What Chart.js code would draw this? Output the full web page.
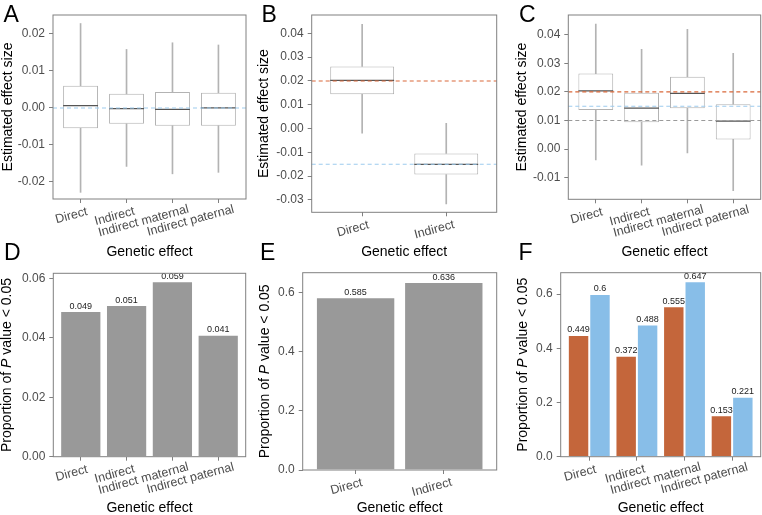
<!DOCTYPE html>
<html>
<head>
<meta charset="utf-8">
<script src="https://cdn.jsdelivr.net/npm/chart.js@4.4.0/dist/chart.umd.min.js"></script>
<style>
  body { margin: 0; background: #fff; width: 762px; height: 515px; position: relative; overflow: hidden; }
  canvas { position: absolute; }
</style>
</head>
<body>
<canvas id="chartA" width="250" height="261" style="left:0;top:0"></canvas>
<canvas id="chartB" width="250" height="261" style="left:250px;top:0"></canvas>
<canvas id="chartC" width="258" height="261" style="left:504px;top:0"></canvas>
<canvas id="chartD" width="250" height="276" style="left:0;top:241px"></canvas>
<canvas id="chartE" width="250" height="276" style="left:250px;top:241px"></canvas>
<canvas id="chartF" width="258" height="276" style="left:504px;top:241px"></canvas>
<script>
// categories
const effects4 = ['Direct', 'Indirect', 'Indirect maternal', 'Indirect paternal'];
const effects2 = ['Direct', 'Indirect'];

// A: box stats (whisker low, q1, median, q3, whisker high)
const aMin = [-0.0228, -0.0158, -0.0178, -0.0174];
const aQ1  = [-0.0055, -0.0043, -0.0048, -0.0048];
const aMed = [0.0006, -0.0002, -0.0004, 0.0000];
const aQ3  = [0.0060, 0.0038, 0.0043, 0.0041];
const aMax = [0.0228, 0.0158, 0.0176, 0.0170];
const aRefs = [0];
const aTicks = [-0.02, -0.01, 0, 0.01, 0.02];

// B
const bMin = [-0.0020, -0.0317];
const bQ1  = [0.0144, -0.0193];
const bMed = [0.0202, -0.0151];
const bQ3  = [0.0261, -0.0105];
const bMax = [0.0438, 0.0022];
const bRefs = [0.02, -0.015];
const bTicks = [-0.03, -0.02, -0.01, 0, 0.01, 0.02, 0.03, 0.04];

// C
const cMin = [-0.0038, -0.0056, -0.0013, -0.0145];
const cQ1  = [0.0137, 0.0094, 0.0143, 0.0034];
const cMed = [0.0204, 0.0143, 0.0195, 0.0098];
const cQ3  = [0.0264, 0.0197, 0.0253, 0.0157];
const cMax = [0.0437, 0.0349, 0.0419, 0.0335];
const cRefs = [0.02, 0.015, 0.01];
const cTicks = [-0.01, 0, 0.01, 0.02, 0.03, 0.04];

// D, E, F: proportion of P value < 0.05
const dProp = [0.049, 0.051, 0.059, 0.041];
const dTicks = [0, 0.02, 0.04, 0.06];
const eProp = [0.585, 0.636];
const eTicks = [0, 0.2, 0.4, 0.6];
const fPropOrange = [0.449, 0.372, 0.555, 0.153];
const fPropBlue = [0.6, 0.488, 0.647, 0.221];
const fTicks = [0, 0.2, 0.4, 0.6];

// colours
const ORANGE = '#c4663b';
const BLUE = '#88bee8';
const GREY_BAR = '#999999';
const DASH_ORANGE = '#d9683a';
const DASH_BLUE = '#9dcbee';
const DASH_GREY = '#9a9a9a';
const FONT = '"Liberation Sans", Arial, sans-serif';

Chart.defaults.font.family = FONT;
Chart.defaults.animation = false;

function decor(cfg) {
    return {
        id: 'decor',
        afterDatasetsDraw(chart) {
            const ctx = chart.ctx;
            const a = chart.chartArea;
            const y = chart.scales.y;
            ctx.save();
            // median lines
            if (cfg.meds) {
                const meta = chart.getDatasetMeta(cfg.boxIndex);
                ctx.strokeStyle = '#555';
                ctx.lineWidth = 1.2;
                meta.data.forEach(function(el, i) {
                    const py = y.getPixelForValue(cfg.meds[i]);
                    ctx.beginPath();
                    ctx.moveTo(el.x - el.width / 2, py);
                    ctx.lineTo(el.x + el.width / 2, py);
                    ctx.stroke();
                });
            }
            // dashed reference lines
            (cfg.refs || []).forEach(function(v, i) {
                const py = y.getPixelForValue(v);
                ctx.strokeStyle = cfg.refColors[i];
                ctx.lineWidth = 1.1;
                ctx.setLineDash([4, 3]);
                ctx.beginPath();
                ctx.moveTo(a.left, py);
                ctx.lineTo(a.right, py);
                ctx.stroke();
            });
            ctx.setLineDash([]);
            // value labels
            if (cfg.barLabels) {
                ctx.fillStyle = '#222';
                ctx.font = '9px ' + FONT;
                ctx.textAlign = 'center';
                ctx.textBaseline = 'bottom';
                chart.data.datasets.forEach(function(ds, di) {
                    chart.getDatasetMeta(di).data.forEach(function(el, i) {
                        ctx.fillText(String(ds.data[i].y), el.x, el.y - 0.5);
                    });
                });
            }
            ctx.restore();
        },
        afterDraw(chart) {
            const ctx = chart.ctx;
            const a = chart.chartArea;
            const x = chart.scales.x;
            ctx.save();
            // panel border
            ctx.strokeStyle = '#808080';
            ctx.lineWidth = 1;
            ctx.strokeRect(a.left, a.top, a.right - a.left, a.bottom - a.top);
            // rotated category labels, anchored near their right end (like hjust ~0.84)
            ctx.font = '12.5px ' + FONT;
            ctx.fillStyle = '#4d4d4d';
            ctx.textAlign = 'left';
            ctx.textBaseline = 'top';
            cfg.cats.forEach(function(c, i) {
                const w = ctx.measureText(c).width;
                ctx.save();
                ctx.translate(x.getPixelForValue(i + 1), a.bottom + 7.8);
                ctx.rotate(-15 * Math.PI / 180);
                ctx.fillText(c, -0.84 * w, 0);
                ctx.restore();
            });
            // panel letter
            ctx.fillStyle = '#000';
            ctx.font = '23px ' + FONT;
            ctx.textBaseline = 'alphabetic';
            ctx.fillText(cfg.letter, cfg.letterX, cfg.letterY);
            // y title (mixed italic)
            ctx.translate(cfg.yTitleX, (a.top + a.bottom) / 2);
            ctx.rotate(-Math.PI / 2);
            ctx.textBaseline = 'middle';
            const parts = cfg.yTitle;
            let total = 0;
            parts.forEach(function(p) {
                ctx.font = (p.italic ? 'italic ' : '') + '14px ' + FONT;
                total += ctx.measureText(p.text).width;
            });
            let px = -total / 2;
            parts.forEach(function(p) {
                ctx.font = (p.italic ? 'italic ' : '') + '14px ' + FONT;
                ctx.fillText(p.text, px, 0);
                px += ctx.measureText(p.text).width;
            });
            ctx.restore();
        }
    };
}

function xScale(cats, geom) {
    return {
        type: 'linear',
        offset: false,
        min: 0.4,
        max: cats.length + 0.6,
        afterBuildTicks: function(s) { s.ticks = cats.map(function(c, i) { return { value: i + 1 }; }); },
        afterFit: function(s) { s.height = geom.xH; },
        ticks: { display: false, autoSkip: false },
        grid: { offset: false, drawOnChartArea: false, drawTicks: true, tickLength: 4, color: '#808080', tickColor: '#808080' },
        border: { display: false },
        title: { display: true, text: 'Genetic effect', color: '#000', font: { size: 14 }, padding: { top: 0, bottom: 0 } }
    };
}

function yScale(min, max, tickVals, digits, geom) {
    return {
        type: 'linear',
        min: min,
        max: max,
        afterBuildTicks: function(s) { s.ticks = tickVals.map(function(v) { return { value: v }; }); },
        afterFit: function(s) { s.width = geom.yW; },
        ticks: {
            padding: 4,
            color: '#4d4d4d',
            font: { size: 12 },
            callback: function(v) { return Number(v).toFixed(digits); }
        },
        grid: { drawOnChartArea: false, drawTicks: true, tickLength: 4, color: '#808080', tickColor: '#808080' },
        border: { display: false }
    };
}

function boxChart(id, cats, mins, q1s, meds, q3s, maxs, refs, refColors, yMin, yMax, tickVals, geom) {
    const pts = function(lo, hi) {
        return cats.map(function(c, i) { return { x: i + 1, y: [lo[i], hi[i]] }; });
    };
    return new Chart(document.getElementById(id), {
        type: 'bar',
        data: {
            datasets: [
                { data: pts(mins, q1s), backgroundColor: '#b3b3b3', barThickness: 1, grouped: false },
                { data: pts(q3s, maxs), backgroundColor: '#b3b3b3', barThickness: 1, grouped: false },
                {
                    data: pts(q1s, q3s),
                    backgroundColor: '#ffffff',
                    borderColor: '#b3b3b3',
                    borderWidth: 1,
                    borderSkipped: false,
                    barPercentage: 0.76,
                    categoryPercentage: 1,
                    grouped: false
                }
            ]
        },
        options: {
            responsive: false,
            layout: { padding: { left: 0, top: geom.padT, right: geom.padR, bottom: 0 } },
            plugins: { legend: { display: false }, tooltip: { enabled: false } },
            scales: {
                x: xScale(cats, geom),
                y: yScale(yMin, yMax, tickVals, 2, geom)
            }
        },
        plugins: [decor({
            cats: cats, meds: meds, boxIndex: 2, refs: refs, refColors: refColors,
            letter: geom.letter, letterX: geom.letterX, letterY: geom.letterY,
            yTitleX: geom.yTitleX, yTitle: [{ text: 'Estimated effect size' }]
        })]
    });
}

function barChart(id, cats, series, colors, yMax, tickVals, digits, geom) {
    const grouped = series.length > 1;
    return new Chart(document.getElementById(id), {
        type: 'bar',
        data: {
            datasets: series.map(function(vals, k) {
                return {
                    data: vals.map(function(v, i) { return { x: i + 1, y: v }; }),
                    backgroundColor: colors[k],
                    borderColor: 'rgba(255,255,255,0.55)',
                    borderWidth: 1,
                    borderSkipped: 'bottom',
                    barPercentage: grouped ? 1 : 0.9,
                    categoryPercentage: grouped ? 0.9 : 1
                };
            })
        },
        options: {
            responsive: false,
            layout: { padding: { left: 0, top: geom.padT, right: geom.padR, bottom: 0 } },
            plugins: { legend: { display: false }, tooltip: { enabled: false } },
            scales: {
                x: xScale(cats, geom),
                y: yScale(0, yMax, tickVals, digits, geom)
            }
        },
        plugins: [decor({
            cats: cats, barLabels: true,
            letter: geom.letter, letterX: geom.letterX, letterY: geom.letterY,
            yTitleX: geom.yTitleX,
            yTitle: [{ text: 'Proportion of ' }, { text: 'P', italic: true }, { text: ' value < 0.05' }]
        })]
    });
}

boxChart('chartA', effects4, aMin, aQ1, aMed, aQ3, aMax, aRefs, [DASH_BLUE], -0.0246, 0.0251, aTicks,
    { padT: 15, padR: 4, yW: 53, xH: 62, letter: 'A', letterX: 3.5, letterY: 22, yTitleX: 8.5 });
boxChart('chartB', effects2, bMin, bQ1, bMed, bQ3, bMax, bRefs, [DASH_ORANGE, DASH_BLUE], -0.0352, 0.0477, bTicks,
    { padT: 15, padR: 3.3, yW: 61.7, xH: 48.7, letter: 'B', letterX: 11.5, letterY: 22, yTitleX: 14 });
boxChart('chartC', effects4, cMin, cQ1, cMed, cQ3, cMax, cRefs, [DASH_ORANGE, DASH_BLUE, DASH_GREY], -0.01755, 0.0469, cTicks,
    { padT: 15, padR: 1.3, yW: 64.3, xH: 61.7, letter: 'C', letterX: 15, letterY: 22, yTitleX: 18.5 });

barChart('chartD', effects4, [dProp], [GREY_BAR], 0.0617, dTicks, 2,
    { padT: 32.3, padR: 4.3, yW: 53.3, xH: 60.3, letter: 'D', letterX: 4, letterY: 19, yTitleX: 7.5 });
barChart('chartE', effects2, [eProp], [GREY_BAR], 0.6677, eTicks, 1,
    { padT: 31.7, padR: 3.3, yW: 52.7, xH: 47, letter: 'E', letterX: 10, letterY: 19, yTitleX: 15.5 });
barChart('chartF', effects4, [fPropOrange, fPropBlue], [ORANGE, BLUE], 0.6786, fTicks, 1,
    { padT: 31.7, padR: 1.3, yW: 56.7, xH: 60.3, letter: 'F', letterX: 14.5, letterY: 19, yTitleX: 19 });
</script>
</body>
</html>
